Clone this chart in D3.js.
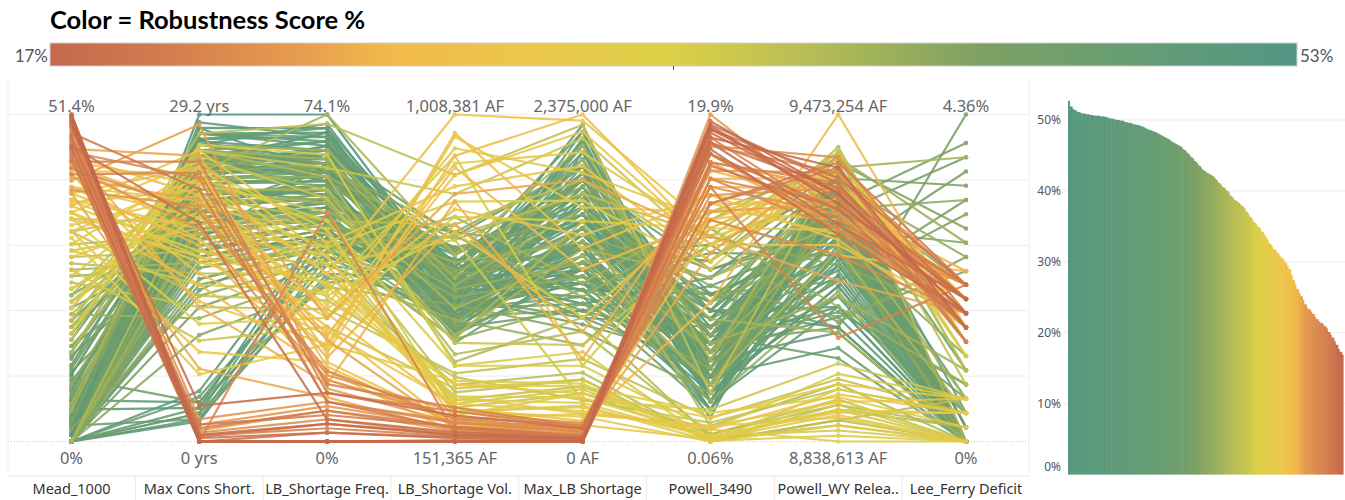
<!DOCTYPE html>
<html>
<head>
<meta charset="utf-8">
<script src="https://cdn.jsdelivr.net/npm/d3@7"></script>
<style>
  html, body { margin: 0; padding: 0; background: #fff; }
  svg { display: block; font-family: "Noto Sans", "Open Sans", sans-serif; }
</style>
</head>
<body>
<svg id="chart" width="1345" height="500"></svg>
<script>
// ---- Axes of the parallel-coordinates view ----
const axisNames = ["Mead_1000", "Max Cons Short.", "LB_Shortage Freq.", "LB_Shortage Vol.",
                   "Max_LB Shortage", "Powell_3490", "Powell_WY Relea..", "Lee_Ferry Deficit"];
// Unit suffix per axis; " AF" axes hold their values in thousand acre-feet
const axisUnits = ["%", " yrs", "%", " AF", " AF", "%", " AF", "%"];

// ---- Policies (one entry per line) ----
const robustness = [
  52.7,51.9,51.6,51.4,51.2,51.1,51.0,50.9,50.9,50.8,
  50.8,50.7,50.7,50.6,50.6,50.6,50.5,50.5,50.5,50.4,
  50.3,50.2,50.2,50.1,50.0,50.0,49.9,49.9,49.8,49.7,
  49.6,49.6,49.5,49.4,49.3,49.3,49.2,49.1,49.0,48.8,
  48.7,48.6,48.5,48.4,48.3,48.1,48.0,47.8,47.7,47.5,
  47.4,47.2,47.0,46.8,46.7,46.5,46.4,46.2,45.9,45.7,
  45.4,45.1,44.8,44.5,44.2,43.9,43.6,43.3,43.0,42.8,
  42.6,42.4,42.3,42.1,41.9,41.5,41.2,40.9,40.6,40.4,
  40.1,39.8,39.4,39.1,38.8,38.6,38.4,38.1,37.9,37.6,
  37.2,36.8,36.4,36.0,35.6,35.3,35.0,34.7,34.3,33.9,
  33.6,33.0,32.6,32.2,31.8,31.6,31.2,30.9,30.6,30.3,
  29.9,29.4,29.0,28.2,27.5,26.8,26.2,25.6,25.2,24.6,
  24.0,23.5,23.3,23.0,22.7,22.2,21.9,21.6,21.4,21.2,
  20.9,20.6,20.1,19.7,19.3,18.8,18.3,17.7,17.3,16.9,
  51.9,51.4,51.1,50.9,50.8,50.7,50.6,50.6,50.5,50.4,
  50.2,50.1,50.0,49.9,49.7,49.6,49.4,49.3,49.1,48.9,
  48.6,48.4,48.2,47.9,47.6,47.3,46.9,46.6,46.3,45.8,
  45.3,44.7,44.1,43.5,42.9,42.5,42.2,41.7,41.1,40.5,
  40.0,39.3,38.7,38.3,37.8,37.0,36.3,35.5,34.9,34.2,
  33.4,32.5,31.8,31.2,30.5,29.8,28.9,27.4,26.1,25.1,
  24.0,23.3,22.6,21.9,21.4,20.9,20.1,19.3,18.3,17.3];

const mead1000 = [
  0,0,1.2,0,3.0,0,5.5,0,2.0,0,
  8.0,0,4.0,0,10.5,0,6.5,0,2.5,0,
  12.0,0,3.5,0,7.0,0,1.0,14.0,0,4.5,
  0,9.0,0,2.0,0,6.0,0,11.0,0,5.0,
  0,16.0,0,3.0,0,8.5,0,19.0,0,2.5,
  0,13.0,0,6.0,0,21.0,0,4.0,0,10.0,
  0,15.0,0,8.0,0,18.0,3.0,0,12.0,0,
  24.0,5.0,0,15.0,0,9.0,20.0,0,6.0,27.0,
  0,18.0,22.0,14.0,28.0,20.0,31.0,16.0,25.0,33.0,
  19.0,27.0,35.0,22.0,30.0,17.0,37.0,24.0,32.0,21.0,
  36.0,34.0,39.0,31.0,42.0,29.0,37.0,33.0,40.0,35.0,
  44.0,38.0,42.5,36.0,45.0,40.0,43.5,39.0,46.0,41.0,
  48.0,44.0,50.0,39.5,47.0,51.4,43.0,46.5,49.0,42.0,
  50.5,45.0,48.5,44.5,51.0,47.5,49.5,46.0,50.8,51.4,
  0,2.5,0,5.0,0,1.5,0,9.5,0,3.5,
  0,7.5,0,1.0,0,11.5,0,4.0,0,13.5,
  0,6.5,0,17.0,0,3.5,0,10.5,0,23.0,
  0,7.0,0,19.0,2.0,0,14.0,0,26.0,5.0,
  0,23.0,29.0,18.0,33.0,21.0,30.0,26.0,35.0,24.0,
  38.0,33.0,40.0,36.0,42.0,37.5,44.0,39.0,45.5,41.5,
  47.0,43.0,49.5,45.5,50.0,44.0,48.0,51.0,46.5,50.2];

const maxConsShort = [
  29.2,27.5,26.8,25.5,24.8,28.0,23.5,22.0,26.0,20.5,
  25.0,2.5,27.0,19.0,24.0,21.5,3.5,26.5,23.0,18.0,
  25.5,17.0,27.5,1.8,22.5,24.5,20.0,26.0,23.5,16.5,
  28.5,21.0,4.5,25.0,19.5,24.0,22.0,17.5,26.5,20.5,
  3.0,24.5,13.5,27.0,18.5,23.0,15.5,21.5,25.5,2.0,
  19.0,24.0,16.0,22.5,27.5,18.0,14.0,23.5,20.0,3.5,
  25.0,17.0,21.0,24.5,12.0,19.5,26.5,16.5,22.0,9.5,
  20.5,25.0,14.5,21.5,18.0,23.5,11.0,19.0,26.0,16.0,
  22.5,24.0,20.0,26.0,15.0,22.0,18.5,27.5,12.0,21.0,
  25.5,9.0,19.5,23.0,14.0,26.5,17.0,21.5,6.0,24.5,
  16.0,22.0,18.0,24.5,12.5,20.5,26.0,8.0,21.5,16.5,
  23.0,19.0,24.0,14.0,22.0,17.5,20.5,6.5,25.5,28.3,
  0,1.5,2.0,21.0,0.8,0,20.5,0,0,24.0,
  0.5,1.2,22.5,0,0,0.3,3.2,0,0.6,0,
  28.0,25.5,23.0,3.0,26.5,21.0,24.5,19.5,27.0,22.0,
  2.0,25.0,18.5,26.0,21.5,23.5,20.0,27.5,24.0,18.0,
  4.0,25.0,16.5,22.0,26.0,14.5,21.0,24.5,17.5,20.0,
  2.5,23.0,17.0,25.5,13.0,21.0,24.0,19.5,15.5,26.5,
  22.5,25.0,17.0,21.5,13.0,26.0,19.0,23.5,10.5,20.0,
  16.5,23.5,20.0,25.0,15.0,22.5,18.0,24.5,12.0,21.5,
  1.0,19.0,0,23.5,0.4,25.0,1.5,0,19.5,0];

const lbShortageFreq = [
  74.1,70,66,68,63,61,65,58,55,62,
  70,48,60,52,67,57,45,72,54,63,
  59,50,68,42,56,61,53,64,58,47,
  69,60,50,66,55,62,57,45,64,52,
  40,67,48,71,55,60,44,58,63,38,
  50,66,46,56,69,52,42,61,54,36,
  65,48,55,60,40,52,63,46,58,35,
  50,62,44,55,49,60,38,52,64,43,
  57,74.1,45,60,38,50,42,72,30,47,
  55,26,40,52,34,65,36,44,22,48,
  33,35,28,40,22,33,45,18,30,25,
  38,26,20,16,24,14,19,10,28,12,
  0,8,9,15,5,0,16,52,0,13,
  3,7,9,0,0,2,11,0,4,0,
  71,64,59,50,66,56,62,53,69,58,
  46,65,51,63,57,60,54,67,61,49,
  43,64,47,58,68,44,55,62,50,53,
  37,59,48,61,41,56,63,50,45,66,
  54,57,40,48,32,62,44,50,28,42,
  36,38,31,42,24,29,21,17,13,23,
  7,14,0,9,4,11,6,2,5,0];

// thousand acre-feet
const lbShortageVol = [
  560,520,590,470,540,610,500,450,640,530,
  580,490,420,560,610,470,520,545,600,500,
  455,585,510,470,530,620,490,575,440,555,
  500,600,520,460,570,530,480,610,540,430,
  560,650,500,590,410,545,620,470,525,580,
  440,690,500,560,610,450,530,480,650,590,
  520,470,560,620,480,700,540,450,650,510,
  590,700,420,600,530,680,470,620,560,740,
  500,640,420,360,300,720,260,850,330,240,
  410,290,680,230,900,350,270,780,310,220,
  700,260,880,230,950,300,820,200,760,250,
  1008.381,190,900,175,870,210,720,180,800,200,
  151.365,190,205,230,170,155,210,175,151.365,240,
  165,190,185,152,151.365,162,220,151.365,168,151.365,
  505,575,480,545,620,510,455,590,535,470,
  560,600,495,550,430,580,515,565,490,630,
  540,470,590,660,520,450,570,640,500,600,
  530,580,660,500,720,460,640,550,690,580,
  430,380,690,280,320,800,250,350,740,230,
  300,270,920,210,850,240,960,195,780,185,
  180,215,153,200,172,230,190,160,176,151.365];

// thousand acre-feet
const maxLBShortage = [
  2300,2180,1900,1760,1600,2050,1450,1350,1850,1250,
  1700,1550,2100,1150,1950,1400,1300,1650,1800,1200,
  1500,1100,2000,1350,1450,1750,1250,1900,1550,1050,
  2200,1600,1400,1700,1300,1850,1450,950,2050,1250,
  1150,1700,1000,2150,1300,1550,900,1400,1950,1100,
  1200,2000,1050,1650,2250,1350,850,1500,1800,1000,
  1900,1250,1550,1750,950,1400,1900,1100,1650,800,
  1300,2000,1000,1500,1200,1800,700,1450,1700,1150,
  1350,2150,1600,900,500,1900,400,2300,600,350,
  700,450,300,250,550,650,200,1750,420,350,
  900,280,2100,180,1700,350,2000,120,1500,220,
  2330,100,2375,60,1250,140,800,50,1900,100,
  0,60,70,130,20,0,90,40,0,110,
  15,45,30,0,0,10,95,0,25,0,
  2250,1650,1500,1400,2000,1300,1800,1200,1950,1550,
  1250,1700,1150,1900,1450,1600,1350,2100,1750,1100,
  1200,1850,1000,1600,2150,950,1450,1900,1150,1400,
  900,1700,1250,1950,900,1550,1850,1300,1050,2050,
  1400,800,1800,450,300,2200,380,550,1600,260,
  400,320,1950,200,2250,150,1400,80,600,90,
  45,120,0,70,20,100,35,10,25,0];

const powell3490 = [
  3.5,4.0,5.5,2.5,6.0,4.5,7.5,3.0,5.0,2.0,
  6.5,4.0,3.5,5.5,8.0,1.5,6.0,4.5,3.0,7.0,
  5.0,2.5,6.5,4.0,8.5,3.5,5.0,7.0,2.0,6.0,
  4.5,9.0,3.0,5.5,7.5,4.0,6.0,9.5,3.0,5.0,
  7.0,4.0,10.0,6.5,2.5,8.0,4.5,11.0,5.5,3.5,
  6.0,9.0,2.0,7.5,4.0,12.0,5.0,8.5,3.5,6.5,
  10.5,4.5,6.0,8.0,4.0,11.0,5.5,7.0,9.5,3.0,
  12.5,6.5,4.5,10.0,2.5,8.5,13.0,5.5,7.5,14.0,
  3.5,5.0,1.0,0.3,0.06,11.0,0.5,3.0,1.5,0.2,
  12.0,0.06,2.0,0.4,13.5,0.1,1.0,10.5,0.06,0.8,
  14.5,0.3,12.5,0.06,14.0,1.5,11.0,0.2,15.0,0.8,
  13.0,14.5,12.0,16.0,13.5,8.5,15.5,17.0,12.5,14.0,
  19.9,16.5,17.5,15.0,18.0,16.0,13.5,18.5,17.0,15.5,
  18.8,14.5,17.5,18.2,16.8,19.0,17.8,18.5,19.2,19.0,
  4.5,3.0,6.0,5.0,2.5,7.0,4.0,5.5,3.5,6.5,
  4.5,8.0,3.0,5.5,2.0,7.5,4.0,6.0,5.0,9.0,
  3.5,7.0,4.5,10.5,2.5,6.0,8.0,5.0,11.5,4.0,
  7.0,6.5,9.0,4.5,12.0,5.5,8.5,3.5,13.5,6.0,
  10.0,0.5,12.5,0.06,1.2,11.5,0.3,0.8,13.0,0.1,
  1.8,0.4,13.5,1.0,12.0,14.0,15.0,13.0,16.5,11.5,
  17.0,15.5,18.0,16.0,18.8,14.5,17.5,19.3,18.2,19.5];

// thousand acre-feet
const powellWYRelease = [
  9380,9360,9330,9300,9350,9280,9200,9340,9150,9310,
  9250,9370,9120,9290,9060,9355,9230,9320,9180,9260,
  9340,9100,9300,9240,9360,9200,9050,9290,9330,9160,
  9270,9220,9310,9080,9350,9190,9300,9240,9140,9330,
  9270,9020,9350,9200,9310,9100,9290,9370,9230,9160,
  9340,9060,9260,9300,9210,9330,9120,9280,9360,9000,
  9240,9310,9060,9300,9200,9350,9150,9250,9080,9320,
  9180,9400,9230,9290,9130,9340,9100,9260,9050,9370,
  9210,9400,8950,8900,8880,9410,8920,9380,8960,8870,
  9400,8910,8990,8860,9360,8940,8885,9390,8920,8838.613,
  9240,8900,9300,8870,9330,8950,9360,8890,9280,8930,
  9250,9300,9220,9350,9200,9473.254,9330,9260,9150,9300,
  9280,9360,9250,9330,9390,9300,9200,9270,9340,9040,
  9310,9380,9260,9330,9290,9350,9240,9370,9300,9320,
  9350,9310,9270,9340,9220,9300,9360,9180,9330,9250,
  9290,9370,9140,9320,9210,9340,9280,9100,9300,9230,
  9350,9170,9310,9260,9340,9090,9290,9360,9200,9320,
  9250,9280,9150,9380,9070,9330,9220,9300,9390,9120,
  9260,8910,9400,8880,8940,9390,8900,8970,9370,8850,
  8925,8895,9310,8915,9340,9270,9230,9360,9300,9390,
  9330,9280,9360,9250,9310,9370,9290,9340,9260,9320];

const leeFerryDeficit = [
  0,0,0,0,0,0,0,0,0,0.19,
  0,0,0,0,0,0,0,0,0.38,0,
  0,0,0,0,0,0,0,0.57,0,0,
  0,0,0,0,0,0,0,0,0,0.19,
  0,0,0,0,0,0.38,0,0,0,0,
  0.95,0,0,0,0,0,0.57,0,0,0,
  0,1.52,4.36,3.98,3.60,3.41,3.03,2.65,2.27,1.90,
  1.71,1.33,1.14,3.22,0,2.46,0.76,1.90,0,3.79,
  0.38,0,0,0.19,0.57,0.95,0,0.76,0.38,0,
  1.33,0,0.57,0,1.14,0.38,0,1.52,0,0,
  1.71,0.38,1.71,0,1.90,0.57,1.52,0,1.90,0.38,
  1.71,2.09,1.71,1.90,2.27,1.52,1.90,2.09,1.71,1.52,
  2.09,1.52,2.09,1.33,1.71,2.09,1.71,1.90,1.33,2.09,
  1.52,2.09,1.71,1.90,1.52,2.09,1.71,1.52,1.90,1.71,
  0,0,0,0,0,0,0,0,0,0,
  0,0,0,0.19,0,0,0,0,0,0,
  0.38,0,0,0,0,0.76,0,0,0,0.19,
  0,3.79,3.22,2.84,2.46,2.09,0,1.52,2.65,0.95,
  0.57,0.19,0.95,0,0.38,1.14,0,0.57,1.33,0,
  0.19,0.38,1.71,0.57,1.90,2.09,1.52,1.90,2.27,1.71,
  1.90,1.52,2.09,1.71,1.90,1.33,2.09,1.52,1.90,1.71];

const seriesByAxis = [mead1000, maxConsShort, lbShortageFreq, lbShortageVol,
                      maxLBShortage, powell3490, powellWYRelease, leeFerryDeficit];

// ---- Colour legend ----
const legendTitle = "Color = Robustness Score %";
const scoreRange = [17, 53];
const colorStops  = [0, 0.10, 0.20, 0.27, 0.38, 0.50, 0.60, 0.68, 0.75, 0.87, 1];
const colorValues = ["#c4684c", "#d47e4f", "#e69d4e", "#f1b94c", "#ebc64a", "#dccf47",
                     "#bbbe54", "#98ae5d", "#7ca064", "#669d74", "#519683"];

// ---- Right-hand ranked bar chart ticks ----
const barTicks = [0, 10, 20, 30, 40, 50];

// ================= drawing =================
const svg = d3.select("#chart");
const W = 1345;

const color = d3.scaleLinear()
  .domain(colorStops.map(t => scoreRange[0] + t * (scoreRange[1] - scoreRange[0])))
  .range(colorValues)
  .interpolate(d3.interpolateRgb)
  .clamp(true);

// Title and legend bar
svg.append("text")
  .attr("x", 50).attr("y", 29)
  .style("font-family", "Lato, 'Noto Sans', sans-serif")
  .style("font-weight", 700).style("font-size", "25.5px").attr("fill", "#000")
  .text(legendTitle);

const defs = svg.append("defs");
const grad = defs.append("linearGradient").attr("id", "scoreGrad")
  .attr("x1", "0%").attr("x2", "100%").attr("y1", "0%").attr("y2", "0%");
colorStops.forEach((t, i) => grad.append("stop")
  .attr("offset", (t * 100) + "%").attr("stop-color", colorValues[i]));

const legX = d3.scaleLinear().domain(scoreRange).range([50, 1297]);
svg.append("rect")
  .attr("x", legX(scoreRange[0])).attr("y", 43)
  .attr("width", legX(scoreRange[1]) - legX(scoreRange[0])).attr("height", 23)
  .attr("fill", "url(#scoreGrad)")
  .attr("stroke", "#cfcfcf").attr("stroke-width", 1);
svg.append("line")
  .attr("x1", legX(35)).attr("x2", legX(35)).attr("y1", 66).attr("y2", 70)
  .attr("stroke", "#555").attr("stroke-width", 1);
const legendLabel = { font: "Lato, 'Noto Sans', sans-serif", size: "17px" };
svg.append("text").attr("x", legX(scoreRange[0]) - 2).attr("y", 62)
  .attr("text-anchor", "end").style("font-family", legendLabel.font)
  .style("font-size", legendLabel.size).attr("fill", "#555")
  .text(scoreRange[0] + "%");
svg.append("text").attr("x", legX(scoreRange[1]) + 3).attr("y", 62)
  .attr("text-anchor", "start").style("font-family", legendLabel.font)
  .style("font-size", legendLabel.size).attr("fill", "#555")
  .text(scoreRange[1] + "%");

// ---- Parallel coordinates pane ----
const paneLeft = 8, paneRight = 1029, paneTop = 80, paneBottom = 476;
const yTop = 114.5, yBottom = 441.5;

const x = d3.scalePoint().domain(axisNames).range([71.5, 966]);
const yNorm = d3.scaleLinear().domain([0, 1]).range([yBottom, yTop]);
const yScales = seriesByAxis.map(s => d3.scaleLinear().domain(d3.extent(s)).range([yBottom, yTop]));

function formatValue(i, v) {
  const u = axisUnits[i];
  if (u === " AF") return d3.format(",.0f")(v * 1000) + u;
  return d3.format(".3~r")(v) + u;
}

const grid = svg.append("g");
yNorm.ticks(5).forEach(t => {
  grid.append("line")
    .attr("x1", paneLeft).attr("x2", paneRight)
    .attr("y1", yNorm(t)).attr("y2", yNorm(t))
    .attr("stroke", t === 0 ? "#c8c8c8" : "#ececec")
    .attr("stroke-width", 1)
    .attr("stroke-dasharray", t === 0 ? "1,2" : null);
});
// pane frame and header dividers
grid.append("line").attr("x1", paneLeft).attr("x2", paneLeft).attr("y1", paneTop).attr("y2", paneBottom)
  .attr("stroke", "#efefef");
grid.append("line").attr("x1", paneRight).attr("x2", paneRight).attr("y1", paneTop).attr("y2", paneBottom)
  .attr("stroke", "#efefef");
grid.append("line").attr("x1", paneLeft).attr("x2", paneRight).attr("y1", paneBottom).attr("y2", paneBottom)
  .attr("stroke", "#e8e8e8");
axisNames.slice(1).forEach((n, i) => {
  const mx = (x(axisNames[i]) + x(n)) / 2;
  grid.append("line").attr("x1", mx).attr("x2", mx).attr("y1", paneBottom).attr("y2", 500)
    .attr("stroke", "#ececec");
});

// policy lines, most robust drawn first
const n = robustness.length;
const drawOrder = d3.range(n).sort((a, b) => robustness[b] - robustness[a]);
const lineGen = d3.line();
const lines = svg.append("g");
drawOrder.forEach(j => {
  const c = color(robustness[j]);
  const pts = axisNames.map((a, i) => [x(a), yScales[i](seriesByAxis[i][j])]);
  const g = lines.append("g").attr("opacity", 0.88);
  g.append("path").attr("d", lineGen(pts))
    .attr("fill", "none").attr("stroke", c)
    .attr("stroke-width", 2.2).attr("stroke-linejoin", "round");
  g.selectAll("circle").data(pts).join("circle")
    .attr("cx", d => d[0]).attr("cy", d => d[1]).attr("r", 2.3).attr("fill", c);
});

// axis extent labels and axis names
const labels = svg.append("g").style("font-size", "16.5px").attr("fill", "#666").attr("text-anchor", "middle");
axisNames.forEach((a, i) => {
  const [lo, hi] = yScales[i].domain();
  labels.append("text").attr("x", x(a)).attr("y", 112).text(formatValue(i, hi));
  labels.append("text").attr("x", x(a)).attr("y", 464).text(formatValue(i, lo));
});
const names = svg.append("g").style("font-size", "14.5px").attr("fill", "#333").attr("text-anchor", "middle");
axisNames.forEach(a => names.append("text").attr("x", x(a)).attr("y", 494).text(a));

// ---- Ranked robustness bars ----
const xb = d3.scaleBand().domain(drawOrder).range([1068, 1343]).paddingInner(0);
const yb = d3.scaleLinear().domain([0, 55]).range([474.5, 84.5]);

const bars = svg.append("g");
barTicks.forEach(t => {
  bars.append("line").attr("x1", 1063).attr("x2", W).attr("y1", yb(t)).attr("y2", yb(t))
    .attr("stroke", t === 0 ? "none" : "#ececec");
  bars.append("text")
    .attr("x", 1061).attr("y", Math.min(yb(t), 467)).attr("dy", "0.35em")
    .attr("text-anchor", "end").style("font-size", "12px").attr("fill", "#555")
    .text(t + "%");
});
bars.selectAll("rect.bar").data(drawOrder).join("rect")
  .attr("class", "bar")
  .attr("x", j => xb(j)).attr("width", xb.bandwidth() + 0.6)
  .attr("y", j => yb(robustness[j])).attr("height", j => yb(0) - yb(robustness[j]))
  .attr("fill", j => color(robustness[j]));
</script>
</body>
</html>
